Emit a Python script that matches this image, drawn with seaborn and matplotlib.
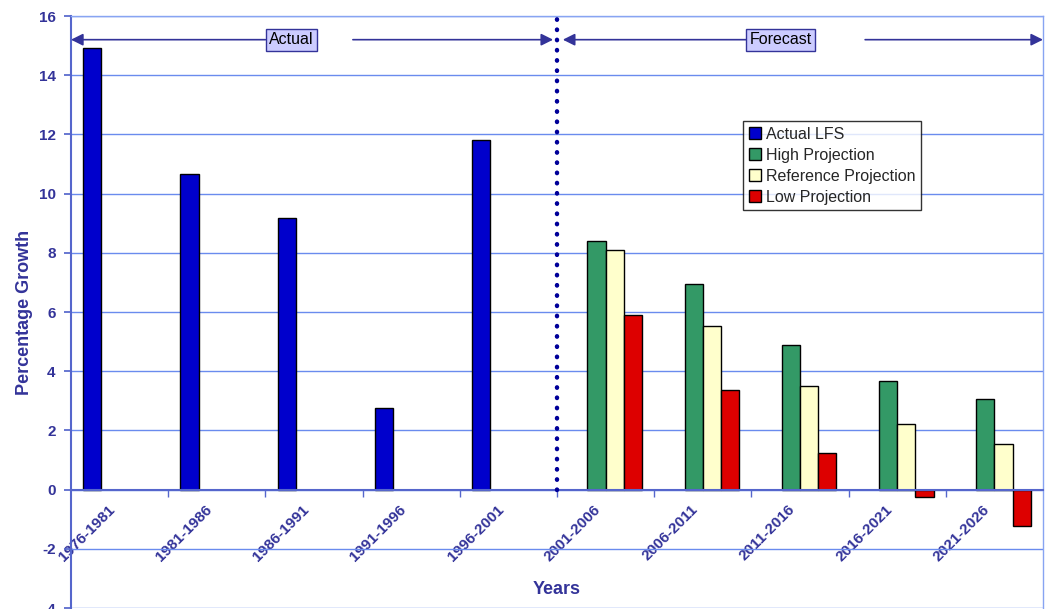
import matplotlib
matplotlib.use("Agg")
import matplotlib.pyplot as plt
import matplotlib.transforms as mtransforms
import seaborn as sns
import pandas as pd
import numpy as np

periods = ["1976-1981", "1981-1986", "1986-1991", "1991-1996", "1996-2001",
           "2001-2006", "2006-2011", "2011-2016", "2016-2021", "2021-2026"]
actual_periods = periods[:5]
forecast_periods = periods[5:]
actual_lfs = [14.92, 10.66, 9.18, 2.74, 11.81]
high_proj = [8.41, 6.95, 4.87, 3.68, 3.07]
ref_proj = [8.11, 5.54, 3.50, 2.22, 1.54]
low_proj = [5.90, 3.37, 1.22, -0.26, -1.23]

series_names = ["Actual LFS", "High Projection", "Reference Projection", "Low Projection"]
colors = ["#0000CC", "#339966", "#FFFFCC", "#DD0000"]

rows = []
for p, v in zip(actual_periods, actual_lfs):
    rows.append((p, series_names[0], v))
for name, vals in zip(series_names[1:], [high_proj, ref_proj, low_proj]):
    for p, v in zip(forecast_periods, vals):
        rows.append((p, name, v))
df = pd.DataFrame(rows, columns=["Years", "Series", "Growth"])

sns.set_theme(style="white")
plt.rcParams['font.family'] = ['Liberation Sans', 'DejaVu Sans']
plt.rcParams['axes.unicode_minus'] = False

txt = "#333399"
grid_c = "#6A8BEE"

fig = plt.figure(figsize=(10.47, 6.09), dpi=100)
ax = fig.add_axes([71/1047, 1 - 608/609, (1043-71)/1047, (608-16)/609])

sns.barplot(data=df, x="Years", y="Growth", hue="Series", order=periods,
            hue_order=series_names, palette=colors, saturation=1, width=0.75,
            edgecolor="black", linewidth=1, ax=ax, legend=True, zorder=3)

ax.set_ylim(-4, 16)
ax.set_xlim(-0.5, len(periods) - 0.5)
ax.set_yticks(np.arange(-4, 17, 2))
ax.yaxis.grid(True, color=grid_c, linewidth=1, zorder=0)
ax.set_axisbelow(True)

for s in ["top", "right"]:
    ax.spines[s].set_color("#88A4F2")
    ax.spines[s].set_linewidth(1)
ax.spines["left"].set_color("#5566CC")
ax.spines["left"].set_linewidth(1.5)
ax.spines["bottom"].set_position(("data", 0))
ax.spines["bottom"].set_color("#5566CC")
ax.spines["bottom"].set_linewidth(1.5)
ax.spines["bottom"].set_zorder(4)

ax.tick_params(axis="y", left=True, length=5, color="#5566CC", labelsize=11,
               labelcolor=txt, pad=6)
for t in ax.get_yticklabels():
    t.set_fontweight("bold")

ax.set_xticks(range(len(periods)))
ax.set_xticks(np.arange(0.5, len(periods) - 0.5, 1), minor=True)
ax.tick_params(axis="x", which="major", length=0, pad=8, labelsize=11, labelcolor=txt)
ax.tick_params(axis="x", which="minor", bottom=True, length=5, color="#5566CC", direction="out")
ax.set_xticklabels(periods, rotation=45, ha="right", rotation_mode="anchor", fontweight="bold")
shift = mtransforms.ScaledTranslation(-12/100, -2/100, fig.dpi_scale_trans)
for t in ax.get_xticklabels():
    t.set_transform(t.get_transform() + shift)

ax.set_xlabel("")
ax.set_ylabel("Percentage Growth", fontsize=13, fontweight="bold", color=txt, labelpad=4)
fig.text(557/1047, 1 - 590/609, "Years", fontsize=13, fontweight="bold", color=txt,
         ha="center", va="center")

# Divider between actual and forecast
div = len(actual_periods) - 0.5
ax.plot([div, div], [0, 16], linestyle=(0, (0.1, 2.2)), dash_capstyle="round",
        linewidth=3.2, color="#000099", zorder=5, clip_on=False)

# Actual / Forecast arrows
arr_y = 15.2
ac = "#333399"
ap = dict(arrowstyle="-|>", color=ac, lw=1.2, mutation_scale=18, shrinkA=0, shrinkB=0)
ax.annotate("", xy=(-0.5, arr_y), xytext=(1.5, arr_y), arrowprops=ap, zorder=6)
ax.annotate("", xy=(div - 0.04, arr_y), xytext=(2.4, arr_y), arrowprops=ap, zorder=6)
ax.text(1.77, arr_y, "Actual", ha="center", va="center", fontsize=11.5, color="black", zorder=7,
        bbox=dict(boxstyle="square,pad=0.22", facecolor="#CCCCFF", edgecolor=ac, linewidth=1))
ax.annotate("", xy=(div + 0.06, arr_y), xytext=(6.5, arr_y), arrowprops=ap, zorder=6)
ax.annotate("", xy=(9.5, arr_y), xytext=(7.67, arr_y), arrowprops=ap, zorder=6, annotation_clip=False)
ax.text(6.8, arr_y, "Forecast", ha="center", va="center", fontsize=11.5, color="black", zorder=7,
        bbox=dict(boxstyle="square,pad=0.22", facecolor="#CCCCFF", edgecolor=ac, linewidth=1))

leg = ax.legend(loc="upper left", bbox_to_anchor=((743-71)/972, (608-121)/592),
                frameon=True, fancybox=False, fontsize=11.5, handlelength=0.8,
                handleheight=0.8, handletextpad=0.3, labelspacing=0.38,
                borderpad=0.35, borderaxespad=0)
leg.get_frame().set_edgecolor("black")
leg.get_frame().set_linewidth(1)
leg.set_zorder(8)

fig.savefig("out.png", dpi=100)
